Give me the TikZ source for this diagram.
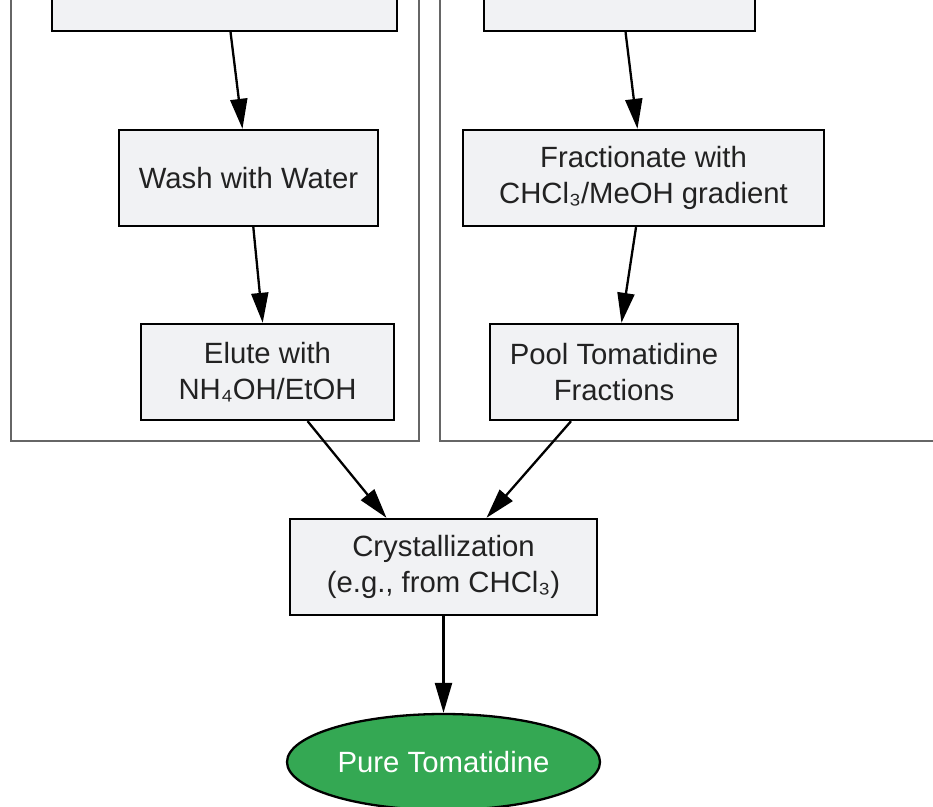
\documentclass[tikz,border=0pt]{standalone}
\usepackage{fontspec}
\setmainfont{Liberation Sans}
\usetikzlibrary{positioning,arrows.meta,shapes.geometric}
\definecolor{boxfill}{HTML}{F1F2F4}
\definecolor{clusterline}{HTML}{666666}
\definecolor{puregreen}{HTML}{34A853}
\definecolor{txt}{HTML}{222222}

\begin{document}
\begin{tikzpicture}[
			x=1pt, y=-1pt,
			stepbox/.style={rectangle, draw=black, line width=2.3pt, fill=boxfill, text=txt, align=center, inner sep=0pt, font=\fontsize{29.3}{36}\selectfont},
			cluster/.style={draw=clusterline, line width=2.3pt},
			flow/.style={-{Triangle[length=30pt,width=17pt]}, line width=2.3pt}
	]
		\useasboundingbox (0,0) rectangle (933,806);
	
		\draw [cluster] (11,-100) rectangle (419,441);
		\draw [cluster] (440,-100) rectangle (1000,441);
		
		\node (loadleft) [stepbox, minimum width=345pt, minimum height=96pt] at (224.5,-17) {};
		\node (loadright) [stepbox, minimum width=271pt, minimum height=96pt] at (619.5,-17) {};
		
		\node (wash) [stepbox, minimum width=259pt, minimum height=96pt] at (248.5,178) {Wash with Water};
		\node (elute) [stepbox, minimum width=253pt, minimum height=96pt] at (267.5,372) {Elute with\\NH₄OH/EtOH};
		\node (fractionate) [stepbox, minimum width=361pt, minimum height=96pt] at (643.5,178) {Fractionate with\\CHCl₃/MeOH gradient};
		\node (pool) [stepbox, minimum width=248pt, minimum height=96pt] at (614,372) {Pool Tomatidine\\Fractions};
		\node (cryst) [stepbox, minimum width=307pt, minimum height=96pt] at (443.5,567) {Crystallization\\(e.g., from CHCl₃)};
		\node (pure) [ellipse, draw=black, line width=2.3pt, fill=puregreen, text=white, inner sep=0pt, minimum width=313pt, minimum height=96pt, font=\fontsize{29.3}{36}\selectfont] at (443.5,762) {Pure Tomatidine};
		
		\draw [flow] (loadleft) -- (wash);
		\draw [flow] (wash) -- (elute);
		\draw [flow] (loadright) -- (fractionate);
		\draw [flow] (fractionate) -- (pool);
		\draw [flow] (elute) -- ([xshift=-57pt]cryst.north);
		\draw [flow] (pool) -- (cryst);
		\draw [flow] (cryst) -- (pure);
	\end{tikzpicture}
\end{document}
